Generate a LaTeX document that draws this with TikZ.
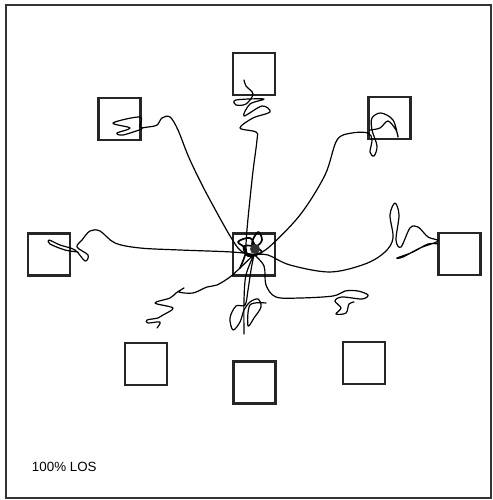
\documentclass[tikz,border=0pt]{standalone}
\usepackage{fontspec}
\setsansfont{Liberation Sans}
\usepackage{tikz}
\usetikzlibrary{positioning}

\begin{document}
\begin{tikzpicture}[x=0.025cm, y=-0.025cm,
  room/.style={rectangle, draw=black!85, line width=2.1pt, minimum size=1.05cm, inner sep=0pt},
  trail/.style={line width=0.85pt, line join=round, line cap=round},
  frame/.style={draw=black!80, line width=1.4pt}]

  \useasboundingbox (0,0) rectangle (493,500);
  \draw[frame] (6,5) rectangle (491,498);

  % Rooms
  \node[room] (hub) at (254,254.5) {};
  \node[room] (rN)  at (254,74) {};
  \node[room] (rNW) at (119.5,119) {};
  \node[room] (rNE) at (389.5,118) {};
  \node[room] (rW)  at (49,254.5) {};
  \node[room] (rE)  at (459.5,254) {};
  \node[room] (rSW) at (146,364) {};
  \node[room] (rS)  at (254.5,382.5) {};
  \node[room] (rSE) at (364,363) {};

  % Label
  \node[anchor=west, font=\sffamily\fontsize{9.5}{11}\selectfont] (tag) at (27,467) {100\% LOS};

  % Trails out of the hub
  \draw[trail] plot[smooth, tension=0.55] coordinates {(hub.center) (238,248) (210,200) (190,160) (178,130) (170,117) (162,118) (157,125) (148,127) (140,127) (140,117) (113,123) (130,128) (117,133) (123,135) (142,129)};
  \draw[trail] plot[smooth, tension=0.55] coordinates {(hub.center) (246,248) (252,180) (257,140) (256,132) (240,128) (253,118) (270,112) (262,106) (244,116) (250,104) (264,99) (236,100) (236,105) (246,104) (253,94) (246,86) (244,80)};
  \draw[trail] plot[smooth, tension=0.55] coordinates {(hub.center) (268,248) (300,215) (325,175) (337,140) (352,133) (368,133) (372,140) (370,152) (374,156) (377,146) (372,130) (372,118) (381,113) (393,120) (398,137) (396,130) (388,121) (380,128) (370,130)};
  \draw[trail] plot[smooth, tension=0.55] coordinates {(hub.center) (232,252) (180,250) (140,248) (115,243) (100,231) (90,231) (82,240) (77,247) (88,255) (85,261) (75,250) (60,245) (49,240) (50,244) (65,250) (78,252)};
  \draw[trail] plot[smooth, tension=0.55] coordinates {(hub.center) (268,255) (290,265) (330,272) (365,264) (385,252) (393,238) (390,215) (395,203) (399,215) (396,240) (401,247) (410,228) (418,227) (428,237) (438,241) (420,248) (403,257) (397,258) (413,252) (428,244) (438,244)};
  \draw[trail] plot[smooth, tension=0.55] coordinates {(hub.center) (240,268) (230,277) (217,285) (207,287) (193,293) (179,292) (184,288) (176,293) (170,298) (155,303) (173,308) (163,315) (158,318) (147,320) (148,323) (160,322) (157,328)};
  \draw[trail] plot[smooth, tension=0.55] coordinates {(hub.center) (251,270) (248,290) (245,305) (236,306) (230,318) (233,330) (240,322) (244,310) (250,302) (258,299) (261,307) (254,318) (248,326) (250,305) (266,303)};
  \draw[trail] plot[smooth, tension=0.55] coordinates {(hub.center) (246,275) (244,300) (244,334)};
  \draw[trail] plot[smooth, tension=0.55] coordinates {(hub.center) (264,266) (266,285) (276,297) (300,298) (333,296) (345,291) (358,291) (368,295) (362,299) (342,297) (335,301) (341,308) (336,314) (346,313) (349,304) (354,302)};

  % Scribble in the hub
  \draw[trail, line width=1.2pt] plot[smooth, tension=0.6] coordinates {(240,268) (246,250) (238,242) (250,238) (256,246) (262,240) (258,232) (252,244) (262,252) (248,256) (244,246) (258,248) (252,258)};
  \fill[black!80] (255,249) circle (5);
\end{tikzpicture}
\end{document}
